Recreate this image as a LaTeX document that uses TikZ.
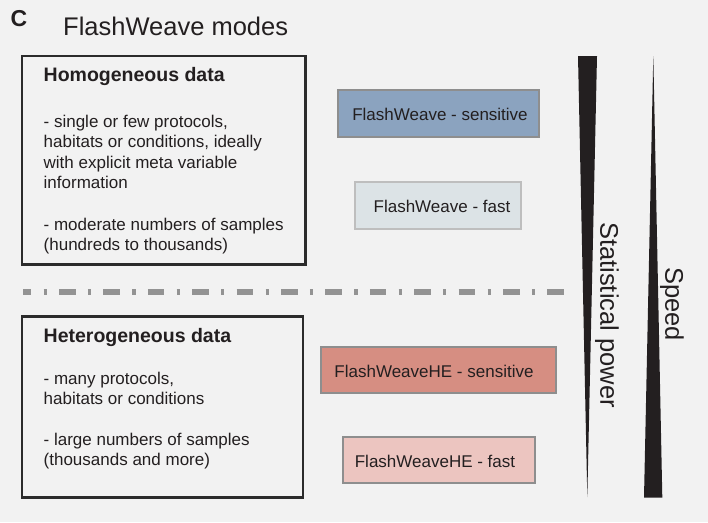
\documentclass[tikz,border=0pt]{standalone}
\usepackage{fontspec}
\setmainfont{Liberation Sans}
\definecolor{bgc}{HTML}{F2F2F2}
\definecolor{txt}{HTML}{231F20}
\definecolor{boxline}{HTML}{2B2B2B}
\definecolor{fwsens}{HTML}{8BA3BF}
\definecolor{fwfast}{HTML}{DCE3E6}
\definecolor{hesens}{HTML}{D68E82}
\definecolor{hefast}{HTML}{ECC5C0}
\definecolor{midgray}{HTML}{8E8E8E}
\definecolor{lightgray}{HTML}{BEBEBE}
\definecolor{dashgray}{HTML}{939393}
\newcommand{\bodyfont}{\fontsize{17}{20.5}\selectfont}
\newcommand{\headfont}{\fontsize{19.5}{23}\selectfont\bfseries}
\newcommand{\bigfont}{\fontsize{25.5}{30}\selectfont}
\tikzset{
  line/.style={anchor=base west, inner sep=0pt, text=txt, font=\bodyfont},
  head/.style={anchor=base west, inner sep=0pt, text=txt, font=\headfont},
  databox/.style={draw=boxline, line width=2.2pt, fill=none},
  modebox/.style={line width=2pt, inner sep=0pt},
  modelabel/.style={inner sep=0pt, text=txt, font=\fontsize{17}{20}\selectfont},
  wedge/.style={fill=txt, draw=none},
  axlabel/.style={rotate=-90, inner sep=0pt, text=txt, font=\bigfont}
}
\begin{document}
\begin{tikzpicture}[x=1pt,y=-1pt]
\useasboundingbox (0,0) rectangle (708,522);
\fill[bgc] (0,0) rectangle (708,522);

% panel letter and title
\node[anchor=base west, inner sep=0pt, text=txt, font=\fontsize{23}{26}\selectfont\bfseries] (panel) at (10.5,26) {C};
\node[anchor=base west, inner sep=0pt, text=txt, font=\bigfont] (title) at (63,35.5) {FlashWeave modes};

% homogeneous box
\draw[databox] (22,56) rectangle (305.5,264.5);
\node[head] (h0) at (43.5,81.7) {Homogeneous data};
\node[line] (h1) at (43.5,127.3) {- single or few protocols,};
\node[line] (h2) at (43.5,147.8) {habitats or conditions, ideally};
\node[line] (h3) at (43.5,168.2) {with explicit meta variable};
\node[line] (h4) at (43.5,188.5) {information};
\node[line] (h5) at (43.5,230) {- moderate numbers of samples};
\node[line] (h6) at (43.5,250.3) {(hundreds to thousands)};

% separator
\draw[dashgray, line width=6pt, line cap=butt,
      dash pattern=on 16.6pt off 12.3pt on 3.3pt off 12.2pt, dash phase=8.4pt]
  (23,292) -- (565.5,292);

% heterogeneous box
\draw[databox] (22,316.5) rectangle (303,497.5);
\node[head] (e0) at (43.5,342) {Heterogeneous data};
\node[line] (e1) at (43.5,384) {- many protocols,};
\node[line] (e2) at (43.5,404) {habitats or conditions};
\node[line] (e3) at (43.5,445) {- large numbers of samples};
\node[line] (e4) at (43.5,465.5) {(thousands and more)};

% mode boxes
\node[modebox, draw=midgray, fill=fwsens, minimum width=201pt, minimum height=47pt] (fws) at (438.5,113.5) {};
\node[modelabel] (fwsl) at (440,114) {FlashWeave - sensitive};
\node[modebox, draw=lightgray, fill=fwfast, minimum width=166pt, minimum height=47pt] (fwf) at (438,205.5) {};
\node[modelabel] (fwfl) at (442,206) {FlashWeave - fast};
\node[modebox, draw=midgray, fill=hesens, minimum width=235pt, minimum height=46pt] (hes) at (438.5,370) {};
\node[modelabel] (hesl) at (434,371) {FlashWeaveHE - sensitive};
\node[modebox, draw=midgray, fill=hefast, minimum width=192pt, minimum height=46pt] (hef) at (439,460) {};
\node[modelabel] (hefl) at (435,461) {FlashWeaveHE - fast};

% wedges
\fill[wedge] (578,56) -- (597,56) -- (587.3,497) -- cycle;
\fill[wedge] (653.3,56) -- (662.3,497.5) -- (644,497.5) -- cycle;
\node[axlabel] (stat) at (607,315) {Statistical power};
\node[axlabel] (speed) at (672,304) {Speed};
\end{tikzpicture}
\end{document}
